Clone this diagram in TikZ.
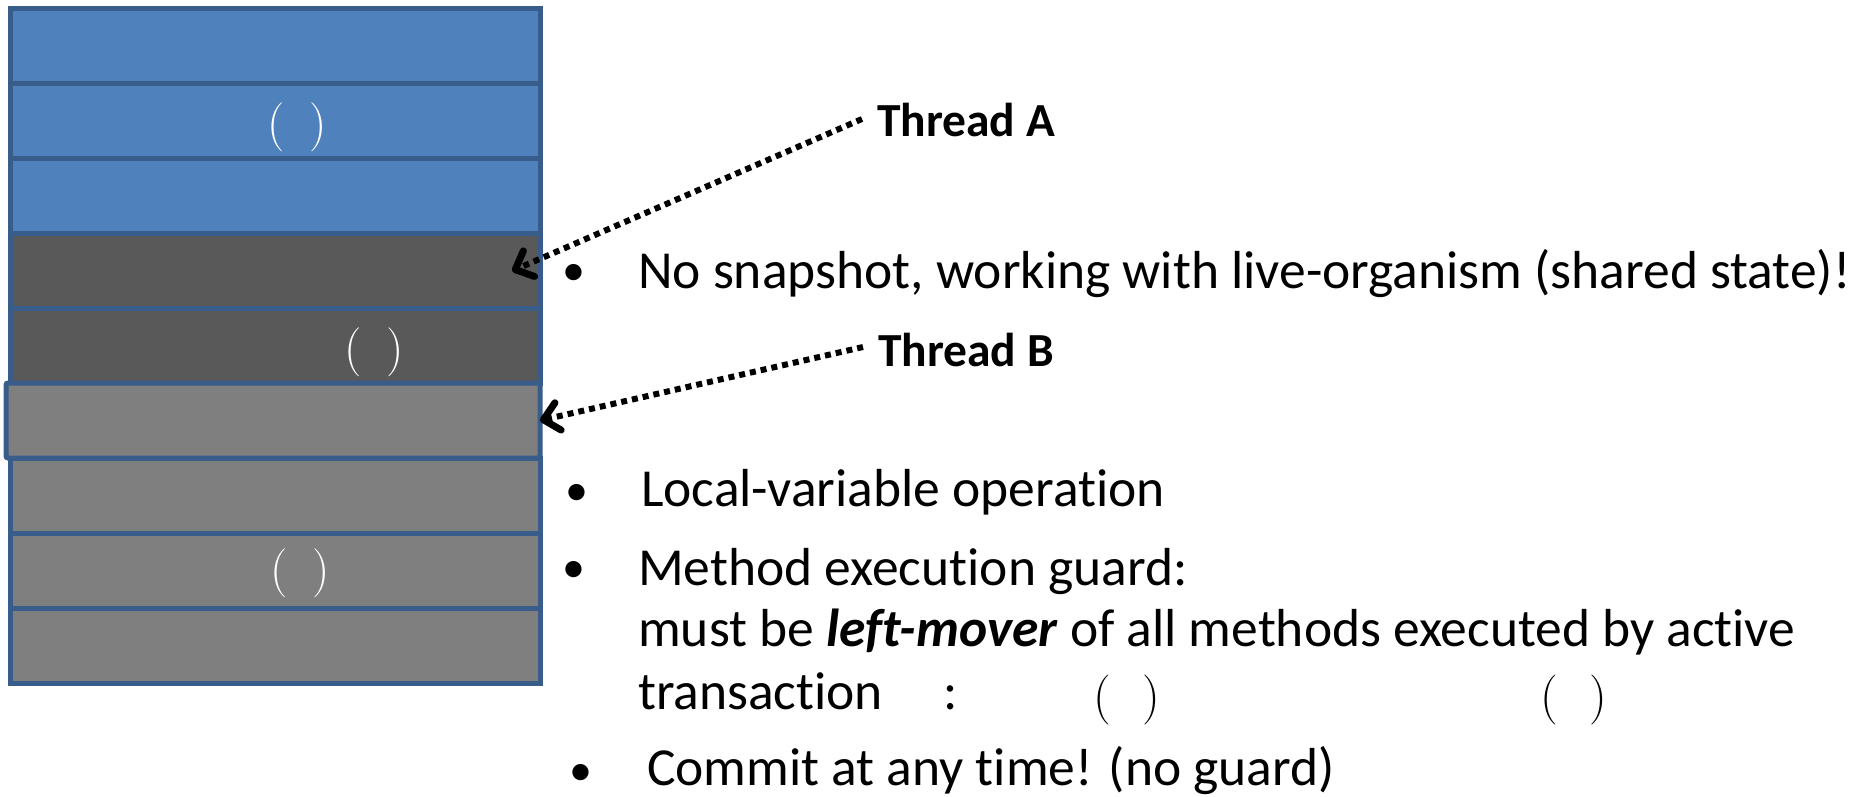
\documentclass[tikz,border=0pt]{standalone}
\usepackage{fontspec}
\setmainfont[Ligatures=NoCommon]{Carlito}
\newfontfamily\markfont{Latin Modern Roman}
\usetikzlibrary{arrows.meta}
\definecolor{slateblue}{HTML}{4F81BD}
\definecolor{slateedge}{HTML}{385D8A}
\definecolor{darkband}{HTML}{595959}
\definecolor{lightband}{HTML}{7F7F7F}
\newcommand{\callmark}[1]{(\hspace{#1})}
\tikzset{
  band/.style={draw=slateedge, line width=5pt, minimum width=530pt, minimum height=75pt, inner sep=0pt, outer sep=0pt},
  paren/.style={text=white, font=\markfont\fontsize{49}{52}\selectfont, inner sep=0pt},
  thread/.style={font=\fontsize{47.5}{52}\selectfont\bfseries, anchor=base west, inner sep=0pt},
  body/.style={font=\fontsize{53.5}{60}\selectfont, anchor=base west, inner sep=0pt},
  slot/.style={font=\markfont\fontsize{50}{54}\selectfont, inner sep=0pt},
  dot/.style={font=\fontsize{46}{50}\selectfont, inner sep=0pt},
  ptr/.style={line width=6pt, dash pattern=on 6pt off 5pt,
    -{Straight Barb[length=15pt, width=28pt, line width=7pt, round]}},
}
\begin{document}
\begin{tikzpicture}[x=1pt, y=-1pt]
\useasboundingbox (0,0) rectangle (1859,796);
% operation stack, top to bottom
\node[band, fill=slateblue] (r1) at (275,45.5) {};
\node[band, fill=slateblue] (r2) at (275,120.5) {};
\node[band, fill=slateblue] (r3) at (275,195.5) {};
\node[band, fill=darkband] (r4) at (275,270.5) {};
\node[band, fill=darkband] (r5) at (275,345.5) {};
\node[band, fill=lightband] (r7) at (275,495.5) {};
\node[band, fill=lightband] (r8) at (275,570.5) {};
\node[band, fill=lightband] (r9) at (275,645.5) {};
\node[band, fill=lightband, minimum width=534pt, rounded corners=2pt] (r6) at (273,420.5) {};
% method-call markers inside the stack
\node[paren] (p2) at (297,127) {\callmark{25pt}};
\node[paren] (p5) at (374,352) {\callmark{25pt}};
\node[paren] (p8) at (300,573) {\callmark{25pt}};
% thread pointers
\node[thread] (ta) at (877,136) {Thread A};
\node[thread] (tb) at (878,366) {Thread B};
\coordinate (ha) at (512,271);
\coordinate (hb) at (r6.east);
\draw[ptr] ([xshift=-15pt]ta.west |- 0,119) -- (ha);
\draw[ptr] ([xshift=-15pt]tb.west |- 0,347) -- (hb);
% notes
\node[dot] (b1) at (574,275) {\textbullet};
\node[body] (l1) at (638,288) {No snapshot, working with live-organism (shared state)!};
\node[dot] (b2) at (577,495) {\textbullet};
\node[body] (l2) at (641,506) {Local-variable operation};
\node[dot] (b3) at (574,572) {\textbullet};
\node[body] (l3) at (638,585) {Method execution guard:};
\node[body] (l4) at (638,646) {must be \textbf{\textit{left-mover}} of all methods executed by active};
\node[body] (l5) at (638,709) {transaction};
\node[body] (c5) at (943,709) {:};
\node[slot] (q1) at (1127,700) {\callmark{31pt}};
\node[slot] (q2) at (1574,700) {\callmark{31pt}};
\node[dot] (b4) at (581,775) {\textbullet};
\node[body] (l6) at (647,785) {Commit at any time! (no guard)};
\end{tikzpicture}
\end{document}
